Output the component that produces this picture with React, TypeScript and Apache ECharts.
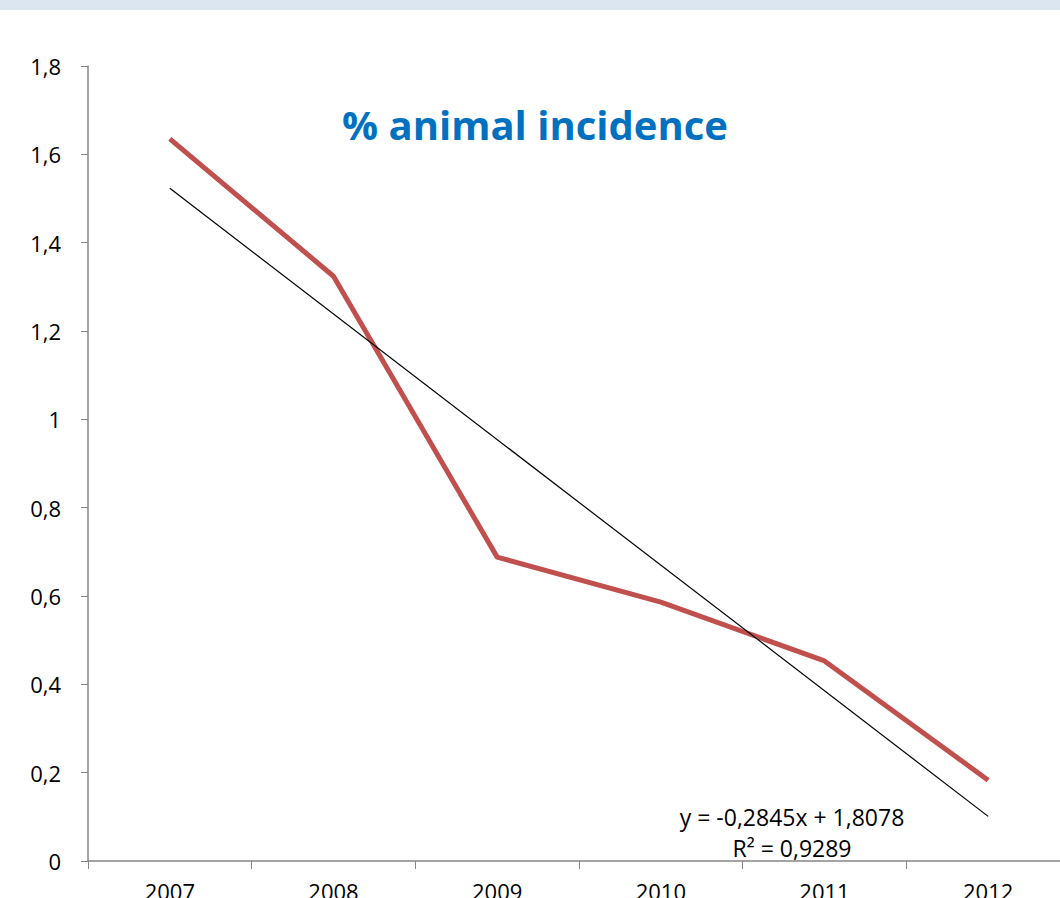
import React, { useEffect, useRef } from "react";
import * as echarts from "echarts";

const years = ["2007", "2008", "2009", "2010", "2011", "2012"];
const incidence = [1.635, 1.324, 0.688, 0.586, 0.453, 0.183];
const trend = [1.523, null, null, null, null, 0.101];
const yTicks = [0, 0.2, 0.4, 0.6, 0.8, 1, 1.2, 1.4, 1.6, 1.8];
const titleText = "% animal incidence";
const equation = "y = -0,2845x + 1,8078";
const rSquared = "R² = 0,9289";

const FONT = "'Open Sans', 'Noto Sans', sans-serif";

export default function App() {
  const ref = useRef<HTMLDivElement>(null);
  useEffect(() => {
    document.body.style.margin = "0";
    document.body.style.overflow = "hidden";
    document.documentElement.style.overflow = "hidden";
    const chart = echarts.init(ref.current!, null, { renderer: "svg", width: 1060, height: 898 });
    chart.setOption({
      animation: false,
      backgroundColor: "#ffffff",
      textStyle: { fontFamily: FONT },
      grid: { left: 88, top: 66, width: 982, height: 795, outerBoundsMode: "none", containLabel: false },
      graphic: [
        { type: "rect", left: 0, top: 0, shape: { width: 1060, height: 10 }, style: { fill: "#dce6f1" }, silent: true },
        {
          type: "text",
          x: 535,
          y: 124,
          style: { text: titleText, fill: "#0070c0", font: `bold 40px ${FONT}`, textAlign: "center", textVerticalAlign: "middle" },
        },
        {
          type: "text",
          x: 792,
          y: 817,
          style: { text: equation, fill: "#000", font: `23px ${FONT}`, textAlign: "center", textVerticalAlign: "middle" },
        },
        {
          type: "text",
          x: 792,
          y: 848,
          style: { text: rSquared, fill: "#000", font: `23px ${FONT}`, textAlign: "center", textVerticalAlign: "middle" },
        },
      ],
      xAxis: {
        type: "category",
        data: years,
        boundaryGap: true,
        axisLine: { lineStyle: { color: "#868686", width: 1.5 } },
        axisTick: { show: true, length: 8, lineStyle: { color: "#868686" } },
        axisLabel: { color: "#000", fontSize: 22, margin: 19, fontFamily: FONT },
        splitLine: { show: false },
      },
      yAxis: {
        type: "value",
        min: 0,
        max: 1.8,
        interval: 0.2,
        axisLine: { show: true, lineStyle: { color: "#868686", width: 1.5 } },
        axisTick: { show: true, length: 7, lineStyle: { color: "#868686" } },
        axisLabel: {
          color: "#000",
          fontSize: 22,
          margin: 27,
          fontFamily: FONT,
          formatter: (v: number) => {
            const t = yTicks.find((x) => Math.abs(x - v) < 1e-6);
            const val = t !== undefined ? t : v;
            return String(Math.round(val * 10) / 10).replace(".", ",");
          },
        },
        splitLine: { show: false },
      },
      series: [
        {
          type: "line",
          data: incidence,
          symbol: "none",
          lineStyle: { color: "#c0504d", width: 5 },
          z: 2,
        },
        {
          type: "line",
          data: trend,
          connectNulls: true,
          symbol: "none",
          lineStyle: { color: "#000", width: 1.2 },
          z: 3,
        },
      ],
    });
    return () => chart.dispose();
  }, []);
  return <div ref={ref} style={{ width: 1060, height: 898, overflow: "hidden" }} />;
}
